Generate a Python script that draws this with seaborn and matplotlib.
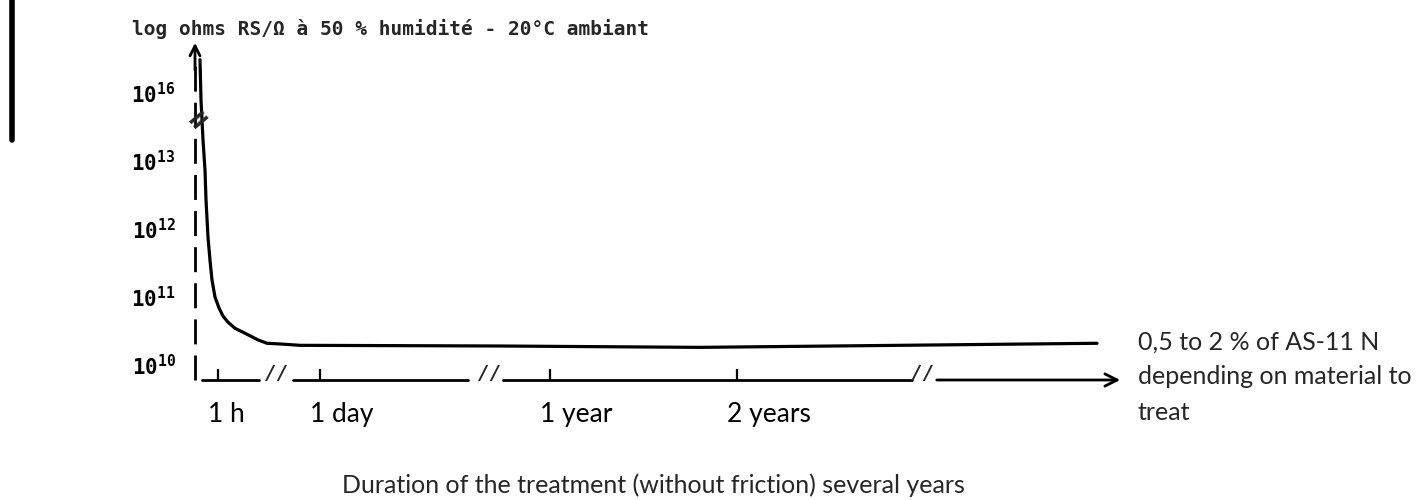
import seaborn as sns
import pandas as pd
import matplotlib.pyplot as plt
from matplotlib.transforms import ScaledTranslation

# curve (x = position along time axis, y = level of the label scale)
curve_x = [5, 6, 8, 10, 11, 13, 15, 17, 20, 24, 28, 33, 40, 47, 55, 63, 72, 85, 105, 305, 505, 705, 902]
curve_y = [4.49, 3.90, 3.31, 2.87, 2.43, 1.88, 1.54, 1.25, 1.00, 0.84, 0.72, 0.63, 0.54, 0.49,
           0.43, 0.37, 0.32, 0.31, 0.29, 0.28, 0.26, 0.29, 0.32]

y_levels = [0, 1, 2, 3, 4]
y_exponents = ['10', '11', '12', '13', '16']

time_pos = [23, 125, 355, 542]
time_labels = ['1 h', '1 day', '1 year', '2 years']

axis_segments = [(7, 64), (98, 273), (308, 717)]
arrow_segment = (739, 928)
break_pos = [82, 295, 728]

note_lines = ['0,5 to 2 % of AS-11 N', 'depending on material to', 'treat']

data = pd.DataFrame({'t': curve_x, 'level': curve_y})

sns.set_theme(style='white')
plt.rcParams['font.family'] = ['Lato', 'DejaVu Sans']
plt.rcParams['mathtext.default'] = 'regular'

fig = plt.figure(figsize=(14.25, 5), dpi=100)
ax = fig.add_axes([195 / 1425, 120 / 500, 928 / 1425, 340 / 500])

sns.lineplot(data=data, x='t', y='level', ax=ax, color='black', lw=2.3,
             sort=False, estimator=None)

ymin, ymax = -0.22, 4.78
ax.set_xlim(0, 928)
ax.set_ylim(ymin, ymax)
for s in ax.spines.values():
    s.set_visible(False)
ax.set_xlabel('')
ax.set_ylabel('')

# dashed y axis with arrow
ax.plot([0, 0], [ymin, 4.45], color='black', lw=2, ls=(0, (9, 4)), clip_on=False)
ax.annotate('', xy=(0, ymax), xytext=(0, 4.3),
            arrowprops=dict(arrowstyle='->', lw=2, color='black', mutation_scale=18),
            annotation_clip=False)
ax.text(4, 3.62, '=', rotation=40, fontsize=20, fontweight='bold',
        ha='center', va='center', family='DejaVu Sans')

# broken x axis
for a, b in axis_segments:
    ax.plot([a, b], [ymin, ymin], color='black', lw=2, clip_on=False)
ax.annotate('', xy=(arrow_segment[1], ymin), xytext=(arrow_segment[0], ymin),
            arrowprops=dict(arrowstyle='->', lw=2, color='black', mutation_scale=22),
            annotation_clip=False)
for bp in break_pos:
    ax.text(bp, -0.12, '//', ha='center', va='center', fontsize=14,
            family='DejaVu Sans Mono', style='italic', fontweight='bold')

ax.set_xticks(time_pos, time_labels)
ax.tick_params(axis='x', direction='in', length=8, width=1.6, color='black',
               pad=16, labelsize=19, labelcolor='black', bottom=True)
for lbl in ax.get_xticklabels():
    lbl.set_ha('left')
    lbl.set_transform(lbl.get_transform() + ScaledTranslation(-10 / 100, 0, fig.dpi_scale_trans))

ax.set_yticks(y_levels, [f'$10^{{{e}}}$' for e in y_exponents])
ax.tick_params(axis='y', length=0, pad=14, labelsize=15, labelcolor='black')
for lbl in ax.get_yticklabels():
    lbl.set_family('DejaVu Sans Mono')
    lbl.set_fontweight('bold')

fig.text(132 / 1425, 1 - 29 / 500, 'log ohms RS/Ω à 50 % humidité - 20°C ambiant',
         family='DejaVu Sans Mono', fontweight='bold', fontsize=14, va='center', ha='left')

for i, line in enumerate(note_lines):
    fig.text(1138 / 1425, 1 - (342 + 35 * i) / 500, line, fontsize=18, va='center', ha='left')

fig.text(342 / 1425, 1 - 485 / 500,
         'Duration of the treatment (without friction) several years',
         fontsize=18, va='center', ha='left')

# scan margin bar
fig.add_artist(plt.Line2D([12 / 1425, 12 / 1425], [1, 1 - 140 / 500], color='black', lw=4))

fig.savefig('out.png', dpi=100)
